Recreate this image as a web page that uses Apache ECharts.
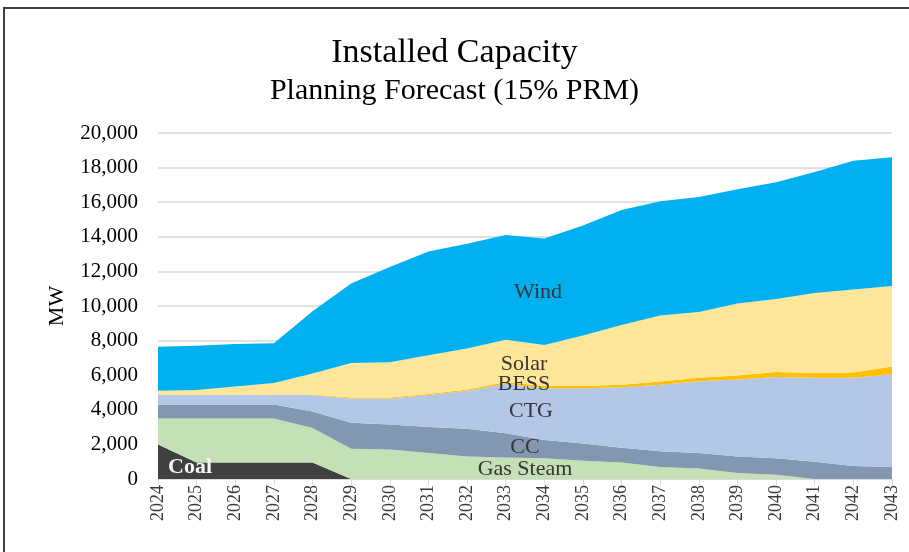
<!DOCTYPE html>
<html>
<head>
	<meta charset="utf-8">
	<title>Installed Capacity</title>
	<script src="https://cdn.jsdelivr.net/npm/echarts@6/dist/echarts.min.js"></script>
	<style>
		html, body { margin: 0; padding: 0; background: #fff; }
	</style>
</head>
<body>
	<div id="main" style="width: 909px;height:552px;"></div>
	<script type="text/javascript">
		// years on the x axis
		var years = ['2024', '2025', '2026', '2027', '2028', '2029', '2030', '2031', '2032', '2033',
			'2034', '2035', '2036', '2037', '2038', '2039', '2040', '2041', '2042', '2043'];

		// MW per resource (stacked bottom to top)
		var coal = [2000, 950, 950, 950, 950, 0, 0, 0, 0, 0, 0, 0, 0, 0, 0, 0, 0, 0, 0, 0];
		var gasSteam = [1500, 2550, 2550, 2550, 2000, 1750, 1700, 1500, 1300, 1250, 1200, 1050, 950, 700, 600, 350, 250, 0, 0, 0];
		var cc = [800, 800, 800, 800, 950, 1500, 1450, 1500, 1600, 1400, 1050, 1000, 850, 900, 900, 950, 950, 1000, 750, 700];
		var ctg = [550, 550, 550, 550, 950, 1400, 1500, 1850, 2200, 2850, 3000, 3200, 3500, 3850, 4150, 4450, 4700, 4850, 5100, 5350];
		var bess = [0, 0, 0, 0, 30, 60, 60, 70, 80, 100, 120, 130, 150, 180, 200, 230, 280, 280, 300, 450];
		var solar = [250, 300, 500, 700, 1220, 1990, 2040, 2230, 2370, 2450, 2380, 2920, 3450, 3820, 3800, 4170, 4220, 4620, 4800, 4650];
		var wind = [2550, 2550, 2450, 2300, 3600, 4600, 5500, 6000, 6050, 6050, 6150, 6350, 6650, 6600, 6650, 6600, 6750, 7000, 7450, 7450];

		var yTicks = [0, 2000, 4000, 6000, 8000, 10000, 12000, 14000, 16000, 18000, 20000];

		var serif = '"Liberation Serif", "DejaVu Serif", serif';

		function areaSeries(name, data, color) {
			return {
				name: name,
				type: 'line',
				stack: 'total',
				data: data,
				showSymbol: false,
				symbol: 'none',
				lineStyle: { width: 0 },
				areaStyle: { color: color, opacity: 1 },
				silent: true
			};
		}

		// text drawn on the areas
		function areaText(txt, x, y, color, bold) {
			return {
				type: 'text',
				x: x,
				y: y,
				style: {
					text: txt,
					fill: color || '#363636',
					font: (bold ? 'bold ' : '') + '22px ' + serif,
					align: 'center',
					verticalAlign: 'middle'
				},
				z: 100
			};
		}

		var myChart = echarts.init(document.getElementById('main'));
		var option = {
			animation: false,
			title: {
				text: 'Installed Capacity',
				subtext: 'Planning Forecast (15% PRM)',
				left: 'center',
				top: 31,
				itemGap: 6,
				textStyle: { fontFamily: serif, fontSize: 34, fontWeight: 'normal', color: '#000' },
				subtextStyle: { fontFamily: serif, fontSize: 30, color: '#000' }
			},
			grid: { left: 158, right: 17, top: 133, bottom: 73 },
			xAxis: {
				type: 'category',
				data: years,
				boundaryGap: false,
				axisLine: { lineStyle: { color: '#d9d9d9', width: 1.5 } },
				axisTick: { show: true, length: 6, lineStyle: { color: '#d9d9d9' } },
				axisLabel: {
					rotate: 90,
					fontFamily: serif,
					fontSize: 18,
					color: '#3a3a3a',
					margin: 6
				}
			},
			yAxis: {
				type: 'value',
				min: 0,
				max: 20000,
				interval: 2000,
				name: 'MW',
				nameLocation: 'middle',
				nameGap: 90,
				nameTextStyle: { fontFamily: serif, fontSize: 22, color: '#000' },
				axisLine: { show: false },
				axisTick: { show: false },
				splitLine: { lineStyle: { color: '#d9d9d9', width: 1.5 } },
				axisLabel: {
					fontFamily: serif,
					fontSize: 21,
					color: '#000',
					margin: 20,
					formatter: function(v) {
						return yTicks.indexOf(v) >= 0 ? v.toLocaleString('en-US') : '';
					}
				}
			},
			series: [
				areaSeries('Coal', coal, '#404040'),
				areaSeries('Gas Steam', gasSteam, '#c5e0b4'),
				areaSeries('CC', cc, '#8497b0'),
				areaSeries('CTG', ctg, '#b4c7e7'),
				areaSeries('BESS', bess, '#ffc000'),
				areaSeries('Solar', solar, '#ffe699'),
				areaSeries('Wind', wind, '#00b0f0')
			],
			graphic: [
				{
					type: 'rect',
					shape: { x: 4, y: 8, width: 920, height: 580 },
					style: { fill: null, stroke: '#3f3f3f', lineWidth: 2 },
					z: 100
				},
				areaText('Wind', 538, 292),
				areaText('Solar', 524, 364),
				areaText('BESS', 524, 384),
				areaText('CTG', 531, 411),
				areaText('CC', 525, 447),
				areaText('Gas Steam', 525, 469),
				areaText('Coal', 190, 467, '#f4f4f4', true)
			]
		};
		myChart.setOption(option);
	</script>
</body>
</html>
